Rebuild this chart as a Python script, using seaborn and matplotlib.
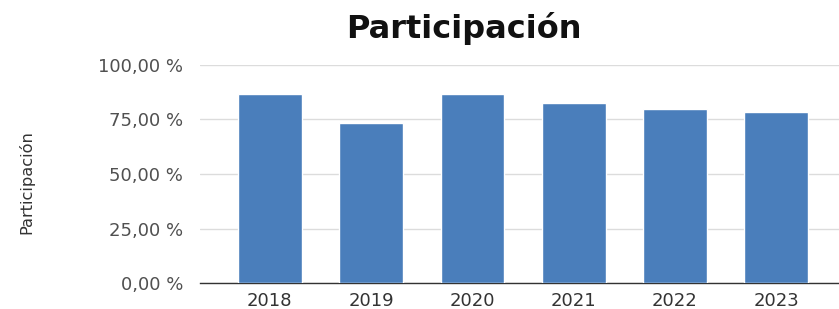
import pandas as pd
import matplotlib
matplotlib.use("Agg")
import matplotlib.pyplot as plt
import seaborn as sns

# Chart data
years = ["2018", "2019", "2020", "2021", "2022", "2023"]
participacion = [86.4, 73.4, 86.4, 82.6, 79.6, 78.2]
y_ticks = [0, 25, 50, 75, 100]

df = pd.DataFrame({"Año": years, "Participación": participacion})

sns.set_style("white")
plt.rcParams["font.family"] = ["DejaVu Sans"]

fig = plt.figure(figsize=(8.39, 3.09), dpi=100)
ax = fig.add_axes([200 / 839, 25.7 / 309, 639 / 839, 218.8 / 309])

sns.barplot(data=df, x="Año", y="Participación", color="#4a7ebb",
            saturation=1, width=0.63, ax=ax, zorder=3)

ax.set_ylim(0, 100)
ax.set_xlim(-0.69, 5.62)
ax.set_yticks(y_ticks)
ax.set_yticklabels([f"{v:.2f} %".replace(".", ",") for v in y_ticks])
ax.yaxis.grid(True, color="#dcdcdc", linewidth=1)
ax.set_axisbelow(True)

for s in ["top", "right", "left"]:
    ax.spines[s].set_visible(False)
ax.spines["bottom"].set_color("#333333")
ax.spines["bottom"].set_linewidth(1)

ax.tick_params(axis="y", length=0, pad=12, labelsize=13, labelcolor="#505050")
ax.tick_params(axis="x", length=0, pad=6, labelsize=13, labelcolor="#333333")

ax.set_xlabel("")
ax.set_ylabel("")
fig.text(26 / 839, 1 - 182 / 309, "Participación", rotation=90, ha="center",
         va="center", fontsize=11.7, color="#333333")

fig.text(464 / 839, 1 - 38.3 / 309, "Participación", ha="center", va="baseline",
         fontsize=23, fontweight="bold", color="#111111")

fig.savefig("out.png", dpi=100)
